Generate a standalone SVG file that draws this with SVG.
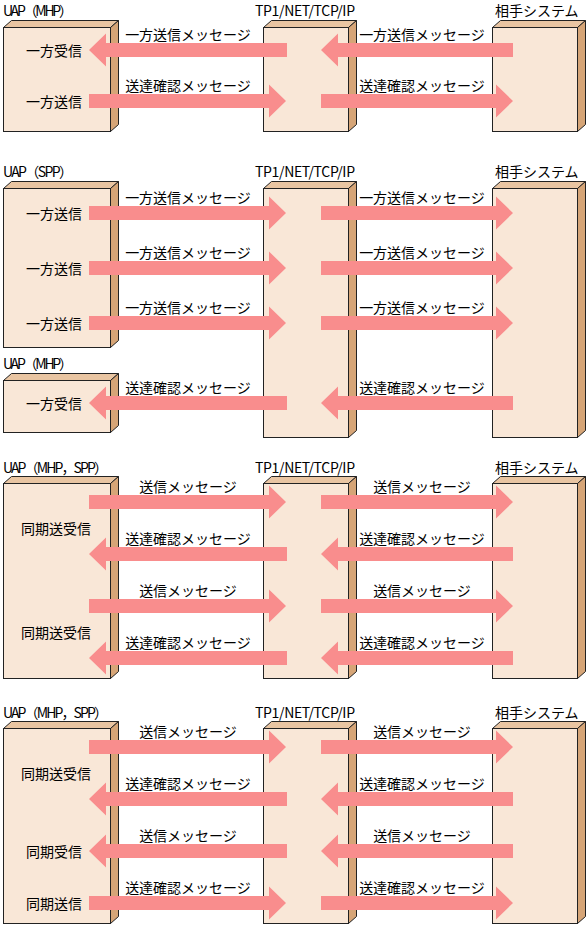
<svg xmlns="http://www.w3.org/2000/svg" width="587" height="927" viewBox="0 0 587 927">
<style>
text{font-family:"Noto Sans CJK JP","Noto Sans",sans-serif;font-size:14px;fill:#000}
.m{text-anchor:middle}
.front{fill:#f9e7d7;stroke:#222;stroke-width:1}
.top{fill:#e9c5a2;stroke:#222;stroke-width:1}
.side{fill:#d6a577;stroke:#222;stroke-width:1}
.arr{fill:#f98d8d}
</style>
<rect width="587" height="927" fill="#fff"/>
<!-- Section 1 -->
<g id="s1-uap"><text x="3" y="16" textLength="70">UAP（MHP）</text>
<polygon class="top" points="3.5,27.5 11.5,20.5 118.5,20.5 110.5,27.5"/><polygon class="side" points="110.5,27.5 118.5,20.5 118.5,124.5 110.5,131.5"/><rect class="front" x="3.5" y="27.5" width="107" height="104"/>
<text class="m" x="54" y="56">一方受信</text><text class="m" x="54" y="107">一方送信</text></g>
<g id="s1-tp1"><text x="255" y="16" textLength="100">TP1/NET/TCP/IP</text>
<polygon class="top" points="263.5,27.5 271.5,20.5 356.5,20.5 348.5,27.5"/><polygon class="side" points="348.5,27.5 356.5,20.5 356.5,124.5 348.5,131.5"/><rect class="front" x="263.5" y="27.5" width="85" height="104"/></g>
<g id="s1-peer"><text x="495" y="16">相手システム</text>
<polygon class="top" points="492.5,27.5 500.5,20.5 585.5,20.5 577.5,27.5"/><polygon class="side" points="577.5,27.5 585.5,20.5 585.5,124.5 577.5,131.5"/><rect class="front" x="492.5" y="27.5" width="85" height="104"/></g>
<!-- Section 2 -->
<g id="s2-uap"><text x="3" y="177" textLength="70">UAP（SPP）</text>
<polygon class="top" points="3.5,188.5 11.5,181.5 118.5,181.5 110.5,188.5"/><polygon class="side" points="110.5,188.5 118.5,181.5 118.5,340.5 110.5,347.5"/><rect class="front" x="3.5" y="188.5" width="107" height="159"/>
<text class="m" x="54" y="219">一方送信</text><text class="m" x="54" y="274">一方送信</text><text class="m" x="54" y="329">一方送信</text></g>
<g id="s2-uap2"><text x="3" y="369" textLength="70">UAP（MHP）</text>
<polygon class="top" points="3.5,380.5 11.5,373.5 118.5,373.5 110.5,380.5"/><polygon class="side" points="110.5,380.5 118.5,373.5 118.5,425.5 110.5,432.5"/><rect class="front" x="3.5" y="380.5" width="107" height="52"/>
<text class="m" x="54" y="409">一方受信</text></g>
<g id="s2-tp1"><text x="255" y="177" textLength="100">TP1/NET/TCP/IP</text>
<polygon class="top" points="263.5,188.5 271.5,181.5 356.5,181.5 348.5,188.5"/><polygon class="side" points="348.5,188.5 356.5,181.5 356.5,430.5 348.5,437.5"/><rect class="front" x="263.5" y="188.5" width="85" height="249"/></g>
<g id="s2-peer"><text x="495" y="177">相手システム</text>
<polygon class="top" points="492.5,188.5 500.5,181.5 585.5,181.5 577.5,188.5"/><polygon class="side" points="577.5,188.5 585.5,181.5 585.5,430.5 577.5,437.5"/><rect class="front" x="492.5" y="188.5" width="85" height="249"/></g>
<!-- Section 3 -->
<g id="s3-uap"><text x="3" y="473" textLength="105">UAP（MHP，SPP）</text>
<polygon class="top" points="3.5,483.5 11.5,476.5 118.5,476.5 110.5,483.5"/><polygon class="side" points="110.5,483.5 118.5,476.5 118.5,671.5 110.5,678.5"/><rect class="front" x="3.5" y="483.5" width="107" height="195"/>
<text class="m" x="56" y="534">同期送受信</text><text class="m" x="56" y="638">同期送受信</text></g>
<g id="s3-tp1"><text x="255" y="473" textLength="100">TP1/NET/TCP/IP</text>
<polygon class="top" points="263.5,483.5 271.5,476.5 356.5,476.5 348.5,483.5"/><polygon class="side" points="348.5,483.5 356.5,476.5 356.5,671.5 348.5,678.5"/><rect class="front" x="263.5" y="483.5" width="85" height="195"/></g>
<g id="s3-peer"><text x="495" y="473">相手システム</text>
<polygon class="top" points="492.5,483.5 500.5,476.5 585.5,476.5 577.5,483.5"/><polygon class="side" points="577.5,483.5 585.5,476.5 585.5,671.5 577.5,678.5"/><rect class="front" x="492.5" y="483.5" width="85" height="195"/></g>
<!-- Section 4 -->
<g id="s4-uap"><text x="3" y="718" textLength="105">UAP（MHP，SPP）</text>
<polygon class="top" points="3.5,728.5 11.5,721.5 118.5,721.5 110.5,728.5"/><polygon class="side" points="110.5,728.5 118.5,721.5 118.5,916.5 110.5,923.5"/><rect class="front" x="3.5" y="728.5" width="107" height="195"/>
<text class="m" x="56" y="779">同期送受信</text><text class="m" x="54" y="857">同期受信</text><text class="m" x="54" y="909">同期送信</text></g>
<g id="s4-tp1"><text x="255" y="718" textLength="100">TP1/NET/TCP/IP</text>
<polygon class="top" points="263.5,728.5 271.5,721.5 356.5,721.5 348.5,728.5"/><polygon class="side" points="348.5,728.5 356.5,721.5 356.5,916.5 348.5,923.5"/><rect class="front" x="263.5" y="728.5" width="85" height="195"/></g>
<g id="s4-peer"><text x="495" y="718">相手システム</text>
<polygon class="top" points="492.5,728.5 500.5,721.5 585.5,721.5 577.5,728.5"/><polygon class="side" points="577.5,728.5 585.5,721.5 585.5,916.5 577.5,923.5"/><rect class="front" x="492.5" y="728.5" width="85" height="195"/></g>
<!-- Connectors -->
<g id="connectors">
<path class="arr" d="M287,43 H106 V33.5 L89,50 L106,66.5 V57 H287 Z"/>
<path class="arr" d="M513,43 H338 V33.5 L321,50 L338,66.5 V57 H513 Z"/>
<path class="arr" d="M89,94 H269 V84.5 L286,101 L269,117.5 V108 H89 Z"/>
<path class="arr" d="M321,94 H496 V84.5 L513,101 L496,117.5 V108 H321 Z"/>

<path class="arr" d="M89,206 H269 V196.5 L286,213 L269,229.5 V220 H89 Z"/>
<path class="arr" d="M321,206 H496 V196.5 L513,213 L496,229.5 V220 H321 Z"/>
<path class="arr" d="M89,261 H269 V251.5 L286,268 L269,284.5 V275 H89 Z"/>
<path class="arr" d="M321,261 H496 V251.5 L513,268 L496,284.5 V275 H321 Z"/>
<path class="arr" d="M89,316 H269 V306.5 L286,323 L269,339.5 V330 H89 Z"/>
<path class="arr" d="M321,316 H496 V306.5 L513,323 L496,339.5 V330 H321 Z"/>
<path class="arr" d="M287,396 H106 V386.5 L89,403 L106,419.5 V410 H287 Z"/>
<path class="arr" d="M513,396 H338 V386.5 L321,403 L338,419.5 V410 H513 Z"/>

<path class="arr" d="M89,495 H269 V485.5 L286,502 L269,518.5 V509 H89 Z"/>
<path class="arr" d="M321,495 H496 V485.5 L513,502 L496,518.5 V509 H321 Z"/>
<path class="arr" d="M287,547 H106 V537.5 L89,554 L106,570.5 V561 H287 Z"/>
<path class="arr" d="M513,547 H338 V537.5 L321,554 L338,570.5 V561 H513 Z"/>
<path class="arr" d="M89,599 H269 V589.5 L286,606 L269,622.5 V613 H89 Z"/>
<path class="arr" d="M321,599 H496 V589.5 L513,606 L496,622.5 V613 H321 Z"/>
<path class="arr" d="M287,651 H106 V641.5 L89,658 L106,674.5 V665 H287 Z"/>
<path class="arr" d="M513,651 H338 V641.5 L321,658 L338,674.5 V665 H513 Z"/>

<path class="arr" d="M89,740 H269 V730.5 L286,747 L269,763.5 V754 H89 Z"/>
<path class="arr" d="M321,740 H496 V730.5 L513,747 L496,763.5 V754 H321 Z"/>
<path class="arr" d="M287,792 H106 V782.5 L89,799 L106,815.5 V806 H287 Z"/>
<path class="arr" d="M513,792 H338 V782.5 L321,799 L338,815.5 V806 H513 Z"/>
<path class="arr" d="M287,844 H106 V834.5 L89,851 L106,867.5 V858 H287 Z"/>
<path class="arr" d="M513,844 H338 V834.5 L321,851 L338,867.5 V858 H513 Z"/>
<path class="arr" d="M89,896 H269 V886.5 L286,903 L269,919.5 V910 H89 Z"/>
<path class="arr" d="M321,896 H496 V886.5 L513,903 L496,919.5 V910 H321 Z"/>

<text class="m" x="188" y="40">一方送信メッセージ</text><text class="m" x="422" y="40">一方送信メッセージ</text>
<text class="m" x="188" y="91">送達確認メッセージ</text><text class="m" x="422" y="91">送達確認メッセージ</text>
<text class="m" x="188" y="203">一方送信メッセージ</text><text class="m" x="422" y="203">一方送信メッセージ</text>
<text class="m" x="188" y="258">一方送信メッセージ</text><text class="m" x="422" y="258">一方送信メッセージ</text>
<text class="m" x="188" y="313">一方送信メッセージ</text><text class="m" x="422" y="313">一方送信メッセージ</text>
<text class="m" x="188" y="393">送達確認メッセージ</text><text class="m" x="422" y="393">送達確認メッセージ</text>
<text class="m" x="188" y="492">送信メッセージ</text><text class="m" x="422" y="492">送信メッセージ</text>
<text class="m" x="188" y="544">送達確認メッセージ</text><text class="m" x="422" y="544">送達確認メッセージ</text>
<text class="m" x="188" y="596">送信メッセージ</text><text class="m" x="422" y="596">送信メッセージ</text>
<text class="m" x="188" y="648">送達確認メッセージ</text><text class="m" x="422" y="648">送達確認メッセージ</text>
<text class="m" x="188" y="737">送信メッセージ</text><text class="m" x="422" y="737">送信メッセージ</text>
<text class="m" x="188" y="789">送達確認メッセージ</text><text class="m" x="422" y="789">送達確認メッセージ</text>
<text class="m" x="188" y="841">送信メッセージ</text><text class="m" x="422" y="841">送信メッセージ</text>
<text class="m" x="188" y="893">送達確認メッセージ</text><text class="m" x="422" y="893">送達確認メッセージ</text>
</g>
</svg>
